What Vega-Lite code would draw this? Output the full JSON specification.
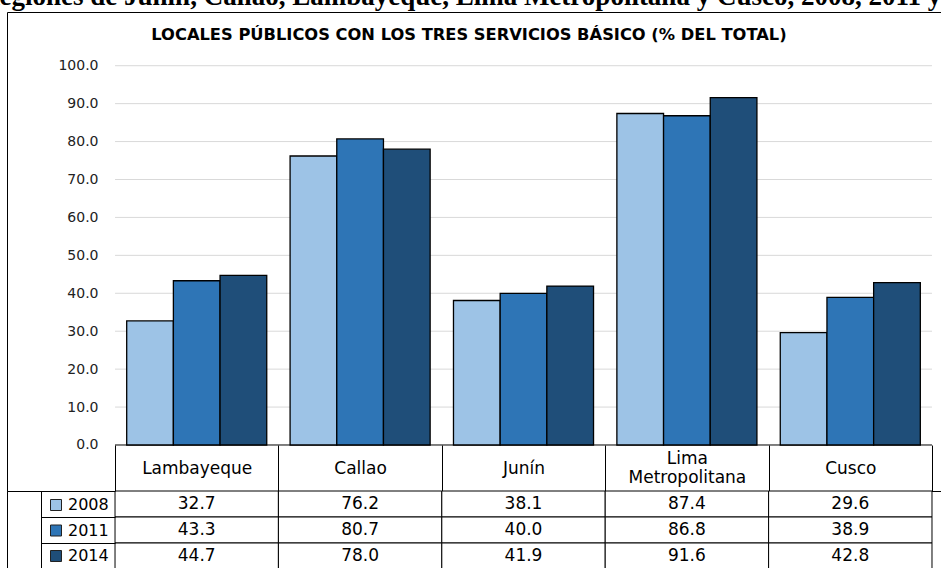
{
  "$schema": "https://vega.github.io/schema/vega-lite/v6.json",
  "background": "white",
  "padding": {"top": -18, "left": -20, "right": 0, "bottom": 0},
  "title": {
    "text": "Regiones de Junín, Callao, Lambayeque, Lima Metropolitana y Cusco, 2008, 2011 y 2014",
    "font": "Liberation Serif",
    "fontSize": 27,
    "fontWeight": "bold",
    "color": "black",
    "anchor": "middle",
    "dx": 14,
    "offset": 1
  },
  "bounds": "flush",
  "spacing": 0,
  "resolve": {"legend": {"color": "independent"}},
  "datasets": {
    "vals": [
      {"region": "Lambayeque", "year": "2008", "value": 32.7},
      {"region": "Lambayeque", "year": "2011", "value": 43.3},
      {"region": "Lambayeque", "year": "2014", "value": 44.7},
      {"region": "Callao", "year": "2008", "value": 76.2},
      {"region": "Callao", "year": "2011", "value": 80.7},
      {"region": "Callao", "year": "2014", "value": 78.0},
      {"region": "Junín", "year": "2008", "value": 38.1},
      {"region": "Junín", "year": "2011", "value": 40.0},
      {"region": "Junín", "year": "2014", "value": 41.9},
      {"region": "Lima Metropolitana", "year": "2008", "value": 87.4},
      {"region": "Lima Metropolitana", "year": "2011", "value": 86.8},
      {"region": "Lima Metropolitana", "year": "2014", "value": 91.6},
      {"region": "Cusco", "year": "2008", "value": 29.6},
      {"region": "Cusco", "year": "2011", "value": 38.9},
      {"region": "Cusco", "year": "2014", "value": 42.8}
    ],
    "grid": [
      {"v": 0}, {"v": 10}, {"v": 20}, {"v": 30}, {"v": 40}, {"v": 50},
      {"v": 60}, {"v": 70}, {"v": 80}, {"v": 90}, {"v": 100}
    ]
  },
  "vconcat": [
    {
      "width": 940,
      "height": 479,
      "view": {"stroke": "black", "strokeWidth": 1},
      "title": {
        "text": "LOCALES PÚBLICOS CON LOS TRES SERVICIOS BÁSICO (% DEL TOTAL)",
        "font": "DejaVu Sans",
        "fontSize": 16.3,
        "fontWeight": "bold",
        "color": "black",
        "anchor": "middle",
        "frame": "group",
        "dx": -8,
        "baseline": "alphabetic",
        "offset": -44
      },
      "layer": [
        {
          "data": {"name": "grid"},
          "mark": {"type": "rule", "strokeWidth": 1},
          "encoding": {
            "y": {
              "field": "v",
              "type": "quantitative",
              "scale": {"domain": [-12.13, 114.16], "nice": false, "zero": false},
              "axis": {
                "orient": "left",
                "offset": -108,
                "values": [0, 10, 20, 30, 40, 50, 60, 70, 80, 90, 100],
                "format": ".1f",
                "grid": false,
                "ticks": false,
                "domain": false,
                "labelPadding": 17,
                "labelFont": "DejaVu Sans",
                "labelFontSize": 14,
                "labelColor": "#222222",
                "title": null
              }
            },
            "x": {"datum": "Lambayeque", "type": "nominal", "bandPosition": 0},
            "x2": {"datum": "Cusco", "bandPosition": 1},
            "color": {
              "condition": {"test": "datum.v === 0", "value": "black"},
              "value": "#d9d9d9"
            }
          }
        },
        {
          "data": {"name": "vals"},
          "mark": {"type": "bar", "stroke": "black", "strokeWidth": 1.3},
          "encoding": {
            "x": {
              "field": "region",
              "type": "nominal",
              "sort": null,
              "scale": {
                "domain": ["Lambayeque", "Callao", "Junín", "Lima Metropolitana", "Cusco"],
                "paddingInner": 0,
                "paddingOuter": 0.3765,
                "align": 0.878
              },
              "axis": {
                "orient": "bottom",
                "offset": -46,
                "domain": false,
                "ticks": true,
                "tickBand": "extent",
                "tickSize": 46,
                "tickColor": "black",
                "tickWidth": 1,
                "labelPadding": {"expr": "datum.value == 'Lima Metropolitana' ? -32.5 : -23"},
                "labelBaseline": "middle",
                "labelAlign": "center",
                "labelAngle": 0,
                "labelFont": "DejaVu Sans",
                "labelFontSize": 17,
                "labelColor": "black",
                "labelLineHeight": 19,
                "labelExpr": "datum.label == 'Lima Metropolitana' ? ['Lima', 'Metropolitana'] : datum.label",
                "title": null
              }
            },
            "xOffset": {
              "field": "year",
              "type": "nominal",
              "scale": {"paddingInner": 0, "paddingOuter": 0.25}
            },
            "y": {"field": "value", "type": "quantitative"},
            "color": {
              "field": "year",
              "type": "nominal",
              "scale": {"domain": ["2008", "2011", "2014"], "range": ["#9dc3e6", "#2e75b6", "#1f4e79"]},
              "legend": {
                "orient": "none",
                "legendX": 41,
                "legendY": 485,
                "title": null,
                "padding": 0,
                "symbolType": "square",
                "symbolSize": 121,
                "symbolStrokeColor": "#222222",
                "symbolStrokeWidth": 1,
                "labelFont": "DejaVu Sans",
                "labelFontSize": 16,
                "labelColor": "black",
                "labelOffset": 4,
                "rowPadding": 9.5
              }
            }
          }
        }
      ]
    },
    {
      "width": 940,
      "height": 78,
      "view": {"stroke": "black", "strokeWidth": 1},
      "data": {"name": "vals"},
      "layer": [
        {
          "mark": {"type": "rect", "fill": "white", "stroke": "black", "strokeWidth": 1},
          "encoding": {
            "x": {
              "field": "region",
              "type": "nominal",
              "sort": null,
              "scale": {
                "domain": ["Lambayeque", "Callao", "Junín", "Lima Metropolitana", "Cusco"],
                "paddingInner": 0,
                "paddingOuter": 0.3765,
                "align": 0.878
              },
              "axis": null
            },
            "y": {
              "field": "year",
              "type": "nominal",
              "scale": {"domain": ["2008", "2011", "2014"], "paddingInner": 0, "paddingOuter": 0},
              "axis": {
                "orient": "left",
                "offset": -34,
                "labels": false,
                "domain": true,
                "domainColor": "black",
                "ticks": true,
                "tickBand": "extent",
                "tickSize": -74,
                "tickColor": "black",
                "grid": false,
                "title": null
              }
            }
          }
        },
        {
          "mark": {"type": "text", "font": "DejaVu Sans", "fontSize": 17, "color": "black"},
          "encoding": {
            "x": {"field": "region", "type": "nominal", "sort": null},
            "y": {"field": "year", "type": "nominal"},
            "text": {"field": "value", "type": "quantitative", "format": ".1f"}
          }
        }
      ]
    }
  ]
}
